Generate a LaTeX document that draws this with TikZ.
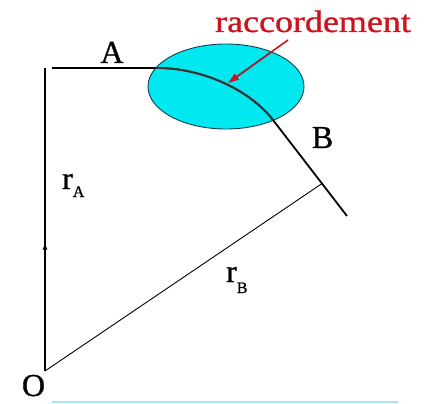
\documentclass[tikz,border=0pt]{standalone}
\usepackage{fontspec}
\setmainfont{Liberation Serif}
\newfontfamily\heavyserif[FakeBold=0.9]{Liberation Serif}
\usetikzlibrary{arrows.meta,calc,decorations.markings,shapes.geometric}
\definecolor{cyanfill}{RGB}{0,232,240}
\definecolor{ellborder}{RGB}{20,60,80}
\definecolor{labred}{RGB}{205,20,30}
\definecolor{darkred}{RGB}{150,40,45}
\definecolor{curvein}{RGB}{70,50,50}
\definecolor{basecyan}{RGB}{170,232,240}
\begin{document}
\begin{tikzpicture}[x=1pt,y=-1pt,
  lbl/.style={inner sep=0pt,anchor=base,font=\heavyserif\fontsize{32}{38}\selectfont}]
\useasboundingbox (0,0) rectangle (427,403);
\coordinate (O) at (45,371);
\coordinate (T) at (45,68);
\coordinate (H) at (52,68);
\coordinate (A) at (158,68);
\coordinate (X) at (273,120);
\coordinate (E) at (347,216);
\coordinate (F) at ($(X)!0.662!(E)$);
\coordinate (R0) at (288,40);
\coordinate (R1) at (228,83);
\coordinate (L0) at (52,402);
\coordinate (L1) at (398,402);

\node[draw=ellborder, line width=0.9pt, fill=cyanfill, ellipse, minimum width=156pt, minimum height=85pt, inner sep=0pt] (ell) at (226,86.5) {};

\draw[line width=1.3pt, postaction={decorate},
  decoration={markings, mark=at position 0.42 with {\arrow{Triangle[length=6pt,width=4.5pt]}}}] (O) -- (T);
\draw[line width=1.1pt] (H) -- (A);
\draw[line width=1.8pt] (A) .. controls (200,68) and (248.6,88.4) .. (X) -- (E);
\draw[line width=0.9pt] (O) -- (F);
\draw[labred, line width=1.6pt, -{Triangle[length=11pt,width=7pt]}] (R0) -- (R1);

\begin{scope}
  \clip (226,86.5) ellipse [x radius=78, y radius=42.5];
  \draw[curvein, line width=1.1pt] (H) -- (A);
  \draw[curvein, line width=1.8pt] (A) .. controls (200,68) and (248.6,88.4) .. (X);
  \draw[darkred, line width=1.6pt] (R0) -- ($(R1)!10pt!(R0)$);
\end{scope}

\draw[basecyan, line width=1.5pt] (L0) -- (L1);

\node[lbl] (lA) at (112,63) {A};
\node[lbl] (lB) at (322.5,148) {B};
\node[lbl] (lO) at (33.5,396) {O};
\node[lbl, anchor=base west] (lrA) at (62,189) {r\raisebox{-8pt}{\fontsize{16}{16}\selectfont A}};
\node[lbl, anchor=base west] (lrB) at (226,282) {r\raisebox{-11pt}{\fontsize{16}{16}\selectfont B}};
\node[inner sep=0pt, anchor=base, text=labred, font=\heavyserif\fontsize{31}{36}\selectfont] (lr) at (313,32) {\scalebox{1.16}[1]{raccordement}};
\end{tikzpicture}
\end{document}
